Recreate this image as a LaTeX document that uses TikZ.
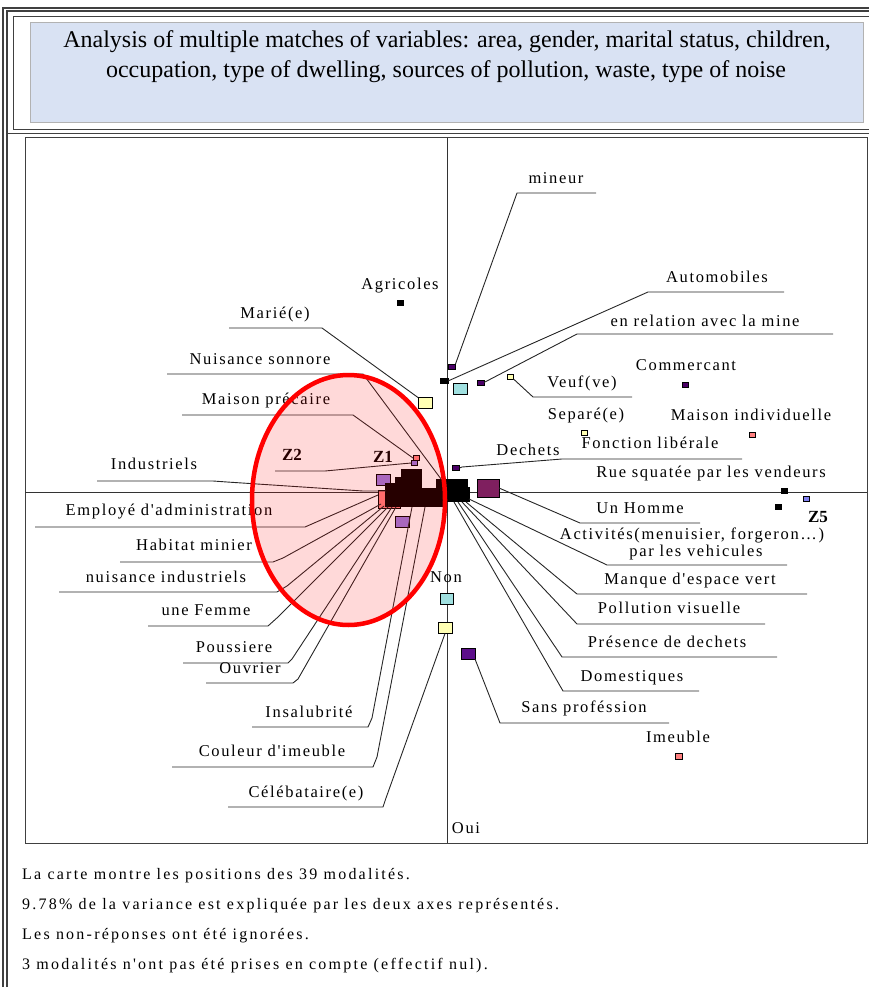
\documentclass[tikz,border=0pt]{standalone}
\usepackage{fontspec}
\setmainfont{Liberation Serif}
\newfontfamily\labfont[LetterSpace=10]{Liberation Serif}
\newfontfamily\footfont[LetterSpace=14]{Liberation Serif}
\definecolor{titlebg}{HTML}{D9E2F3}
\definecolor{cyel}{HTML}{FFFFB3}
\definecolor{ccya}{HTML}{A0E0E0}
\definecolor{cpur}{HTML}{9A7AE0}
\definecolor{cdpu}{HTML}{4A0066}
\definecolor{cind}{HTML}{5C0E8A}
\definecolor{cmar}{HTML}{7F1F5F}
\definecolor{csal}{HTML}{FF8080}
\definecolor{cblu}{HTML}{8080F0}
\definecolor{frm}{HTML}{404040}
\begin{document}
\begin{tikzpicture}[x=1pt,y=-1pt,
  lab/.style={font=\labfont\fontsize{16.5pt}{18pt}\selectfont, inner sep=0pt, anchor=base},
  zlab/.style={font=\fontsize{17pt}{18pt}\selectfont\bfseries, inner sep=0pt, anchor=base},
  foot/.style={font=\footfont\fontsize{16pt}{17pt}\selectfont, inner sep=0pt, anchor=base west},
  ttl/.style={font=\fontsize{24pt}{26pt}\selectfont, inner sep=0pt, anchor=base},
  sq/.style={draw=black, line width=0.9pt, inner sep=0pt, outer sep=0pt},
  sqs/.style={sq, minimum width=6pt, minimum height=5pt},
  sqm/.style={sq, minimum width=14pt, minimum height=11pt},
  ln/.style={line width=0.9pt, black!85},
  frame/.style={line width=1.2pt, frm}
]
\useasboundingbox (0,0) rectangle (869,987);
% ---------- frames ----------
\draw[frame] (3,987) -- (3,8) -- (869,8);
\draw[frame] (7,987) -- (7,11) -- (869,11);
\draw[frame, line width=0.8pt] (869,16) -- (13,16) -- (13,129) -- (869,129);
\draw[frame, line width=0.8pt] (7,133) -- (869,133);
\node[fill=titlebg, draw=gray!60, line width=0.6pt, minimum width=833pt, minimum height=100pt, inner sep=0pt] (tbox) at (446.5,72) {};
\node[ttl] (t1) at (447,48) {Analysis of multiple matches of variables: area, gender, marital status, children,};
\node[ttl] (t2) at (446,78) {occupation, type of dwelling, sources of pollution, waste, type of noise};
% plot frame and axes
\draw[frame, line width=1pt] (25,138) rectangle (867,843);
\coordinate (axT) at (447,138); \coordinate (axB) at (447,843);
\coordinate (axL) at (25,492); \coordinate (axR) at (867,492);
\draw[line width=1pt, black!80] (axT) -- (axB);
\draw[line width=1pt, black!80] (axL) -- (axR);
% ---------- squares ----------
\node[sqm, fill=cyel] (Y1) at (425,403) {};
\node[sqs, fill=csal] (R1) at (416,458) {};
\node[sqs, fill=cpur] (P1) at (414.5,463) {};
\node[sqs, fill=black, minimum width=6pt] (AG) at (400,303) {};
\node[sqs, fill=cdpu, minimum width=7pt] (M) at (452,366.5) {};
\node[sqs, fill=black, minimum width=8pt] (B1) at (444,381) {};
\node[sqs, fill=cdpu, minimum width=7pt] (P2) at (480.5,382.5) {};
\node[sqm, fill=ccya] (C1) at (460,389) {};
\node[sqs, fill=cyel] (Y3) at (510.5,376.5) {};
\node[sqs, fill=cdpu] (CM) at (685.5,384.5) {};
\node[sqs, fill=cyel] (Y4) at (584.5,433) {};
\node[sqs, fill=csal] (MI) at (752,434.5) {};
\node[sqs, fill=cdpu, minimum width=7pt] (D) at (456,468) {};
\node[sqs, fill=black] (K1) at (784,491) {};
\node[sqs, fill=black] (K2) at (778.5,506.5) {};
\node[sqs, fill=cblu] (Z5s) at (806,499) {};
\node[sq, fill=cmar, minimum width=22pt, minimum height=18pt] (MA) at (488,488) {};
\node[sqm, fill=ccya, minimum width=13pt] (C2) at (446.5,598.5) {};
\node[sqm, fill=cyel] (Y2) at (445,628) {};
\node[sqm, fill=cind] (S) at (468,653.5) {};
\node[sqs, fill=csal, minimum width=7pt, minimum height=6pt] (IM) at (678.5,756) {};
% cluster
\node[sq, fill=csal, minimum width=22pt, minimum height=18pt] (RC) at (389,499) {};
\node[sqm, fill=cpur] (PC1) at (383,479.5) {};
\node[sqm, fill=cpur] (PC2) at (402,521.5) {};
\fill[black] (385,483) rectangle (401,507);
\fill[black] (395,477) rectangle (402,484);
\fill[black] (401,469) rectangle (422,507);
\fill[black] (421,488) rectangle (440,507);
\fill[black] (436,479) rectangle (446,507);
\fill[black] (445,479) rectangle (468,502);
\fill[black] (466,487) rectangle (470,502);
% ---------- labels and leaders, left ----------
\node[lab] (lMarie) at (275,318) {Marié(e)};
\coordinate (uMa1) at (229,328); \coordinate (uMa2) at (322,328);
\draw[ln] (uMa1) -- (uMa2) -- (Y1.north west);

\node[lab] (lNuis) at (260,364) {Nuisance sonnore};
\coordinate (uNs1) at (167,374); \coordinate (uNs2) at (363,374); \coordinate (eNs) at (441,479);
\draw[ln] (uNs1) -- (uNs2) -- (eNs);

\node[lab] (lMP) at (266,404) {Maison précaire};
\coordinate (uMp1) at (182,415); \coordinate (uMp2) at (353,415);
\draw[ln] (uMp1) -- (uMp2) -- (R1.west);

\node[zlab] (lZ2) at (292,460) {Z2};
\node[zlab] (lZ1) at (383,462) {Z1};
\coordinate (uZ1) at (275,471); \coordinate (uZ2) at (325,471); \coordinate (bZ) at (400,464);
\draw[ln] (uZ1) -- (uZ2) -- (bZ) -- (P1.west);

\node[lab] (lInd) at (154,469) {Industriels};
\coordinate (uIn1) at (97,481); \coordinate (uIn2) at (213,481); \coordinate (bIn1) at (227,482); \coordinate (bIn2) at (363,491); \coordinate (eIn) at (386,491);
\draw[ln] (uIn1) -- (uIn2) -- (bIn1) -- (bIn2) -- (eIn);

\node[lab] (lEmp) at (169,515) {Employé d'administration};
\coordinate (uEm1) at (35,527); \coordinate (uEm2) at (305,527); \coordinate (eEm) at (378,495);
\draw[ln] (uEm1) -- (uEm2) -- (eEm);

\node[lab] (lHab) at (194,550) {Habitat minier};
\coordinate (uHa1) at (120,562); \coordinate (uHa2) at (273,562); \coordinate (bHa) at (283,558); \coordinate (eHa) at (381,504);
\draw[ln] (uHa1) -- (uHa2) -- (bHa) -- (eHa);

\node[lab] (lNI) at (166,582) {nuisance industriels};
\coordinate (uNi1) at (59,592); \coordinate (uNi2) at (277,592); \coordinate (bNi) at (287,586); \coordinate (eNi) at (384,506);
\draw[ln] (uNi1) -- (uNi2) -- (bNi) -- (eNi);

\node[lab] (lFem) at (206,615) {une Femme};
\coordinate (uFe1) at (148,626); \coordinate (uFe2) at (268,626); \coordinate (bFe) at (278,617); \coordinate (eFe) at (388,507);
\draw[ln] (uFe1) -- (uFe2) -- (bFe) -- (eFe);

\node[lab] (lPou) at (234,652) {Poussiere};
\coordinate (uPo1) at (183,663); \coordinate (uPo2) at (288,663); \coordinate (bPo) at (292,659); \coordinate (ePo) at (392,507);
\draw[ln] (uPo1) -- (uPo2) -- (bPo) -- (ePo);

\node[lab] (lOuv) at (250,673) {Ouvrier};
\coordinate (uOu1) at (206,683); \coordinate (uOu2) at (293,683); \coordinate (bOu) at (298,679); \coordinate (eOu) at (396,507);
\draw[ln] (uOu1) -- (uOu2) -- (bOu) -- (eOu);

\node[lab] (lIns) at (309,717) {Insalubrité};
\coordinate (uIs1) at (252,727); \coordinate (uIs2) at (368,727); \coordinate (bIs) at (372,718); \coordinate (eIs) at (412,507);
\draw[ln] (uIs1) -- (uIs2) -- (bIs) -- (eIs);

\node[lab] (lCou) at (272,756) {Couleur d'imeuble};
\coordinate (uCo1) at (172,767); \coordinate (uCo2) at (373,767); \coordinate (bCo) at (377,757); \coordinate (eCo) at (425,507);
\draw[ln] (uCo1) -- (uCo2) -- (bCo) -- (eCo);

\node[lab] (lCel) at (306,797) {Célébataire(e)};
\coordinate (uCe1) at (228,807); \coordinate (uCe2) at (383,807); \coordinate (bCe) at (386,798);
\draw[ln] (uCe1) -- (uCe2) -- (bCe) -- (Y2.south);

% ---------- center labels ----------
\node[lab] (lAgr) at (400,289) {Agricoles};
\node[lab] (lNon) at (446,582) {Non};
\node[lab] (lOui) at (466,833) {Oui};

% ---------- right labels ----------
\node[lab] (lMin) at (556,184) {mineur};
\coordinate (uMi1) at (596,193); \coordinate (uMi2) at (517,193);
\draw[ln] (uMi1) -- (uMi2) -- (M.north east);

\node[lab] (lAut) at (717,282) {Automobiles};
\coordinate (uAu1) at (784,292); \coordinate (uAu2) at (648,292);
\draw[ln] (uAu1) -- (uAu2) -- (B1.east);

\node[lab] (lRel) at (705,326) {en relation avec la mine};
\coordinate (uRe1) at (833,334); \coordinate (uRe2) at (577,334);
\draw[ln] (uRe1) -- (uRe2) -- (P2.east);

\node[lab] (lCom) at (686,370) {Commercant};

\node[lab] (lVeuf) at (582,387) {Veuf(ve)};
\coordinate (uVe1) at (632,397); \coordinate (uVe2) at (533,397);
\draw[ln] (uVe1) -- (uVe2) -- (Y3.south east);

\node[lab] (lSep) at (586,419) {Separé(e)};
\node[lab] (lMI) at (751,420) {Maison individuelle};
\node[lab] (lFon) at (650,448) {Fonction libérale};
\node[lab] (lDec) at (528,455) {Dechets};
\coordinate (uDe1) at (742,459); \coordinate (uDe2) at (562,459); \coordinate (bDe) at (462,467);
\draw[ln] (uDe1) -- (uDe2) -- (bDe) -- (D.east);

\node[lab] (lRue) at (711,477) {Rue squatée par les vendeurs};
\node[zlab] (lZ5) at (818,522) {Z5};

\node[lab] (lHom) at (640,513) {Un Homme};
\coordinate (uHo1) at (700,523); \coordinate (uHo2) at (580,523);
\draw[ln] (uHo1) -- (uHo2) -- (MA.east);

\node[lab] (lAct) at (692,539) {Activités(menuisier, forgeron…)};
\node[lab] (lVeh) at (696,556) {par les vehicules};
\coordinate (uAc1) at (787,565); \coordinate (uAc2) at (607,565); \coordinate (eAc) at (469,499);
\draw[ln] (uAc1) -- (uAc2) -- (eAc);

\node[lab] (lMan) at (690,584) {Manque d'espace vert};
\coordinate (uMn1) at (807,594); \coordinate (uMn2) at (577,594); \coordinate (eMn) at (466,502);
\draw[ln] (uMn1) -- (uMn2) -- (eMn);

\node[lab] (lPol) at (669,613) {Pollution visuelle};
\coordinate (uPv1) at (765,624); \coordinate (uPv2) at (577,624); \coordinate (ePv) at (462,502);
\draw[ln] (uPv1) -- (uPv2) -- (ePv);

\node[lab] (lPre) at (667,647) {Présence de dechets};
\coordinate (uPr1) at (777,657); \coordinate (uPr2) at (562,657); \coordinate (ePr) at (458,502);
\draw[ln] (uPr1) -- (uPr2) -- (ePr);

\node[lab] (lDom) at (632,681) {Domestiques};
\coordinate (uDo1) at (699,691); \coordinate (uDo2) at (563,691); \coordinate (eDo) at (454,502);
\draw[ln] (uDo1) -- (uDo2) -- (eDo);

\node[lab] (lSans) at (584,712) {Sans proféssion};
\coordinate (uSa1) at (669,723); \coordinate (uSa2) at (500,723);
\draw[ln] (uSa1) -- (uSa2) -- (S.south east);

\node[lab] (lImm) at (678,742) {Imeuble};

% ---------- highlight ellipse ----------
\fill[red, fill opacity=0.15] (348.5,500) ellipse [x radius=96.5, y radius=125];
\draw[red, line width=4.5pt] (348.5,500) ellipse [x radius=96.5, y radius=125];

% ---------- footer ----------
\node[foot] (f1) at (22,879) {La carte montre les positions des 39 modalités.};
\node[foot] (f2) at (22,909) {9.78\% de la variance est expliquée par les deux axes représentés.};
\node[foot] (f3) at (22,939) {Les non-réponses ont été ignorées.};
\node[foot] (f4) at (22,969) {3 modalités n'ont pas été prises en compte (effectif nul).};
\end{tikzpicture}
\end{document}
